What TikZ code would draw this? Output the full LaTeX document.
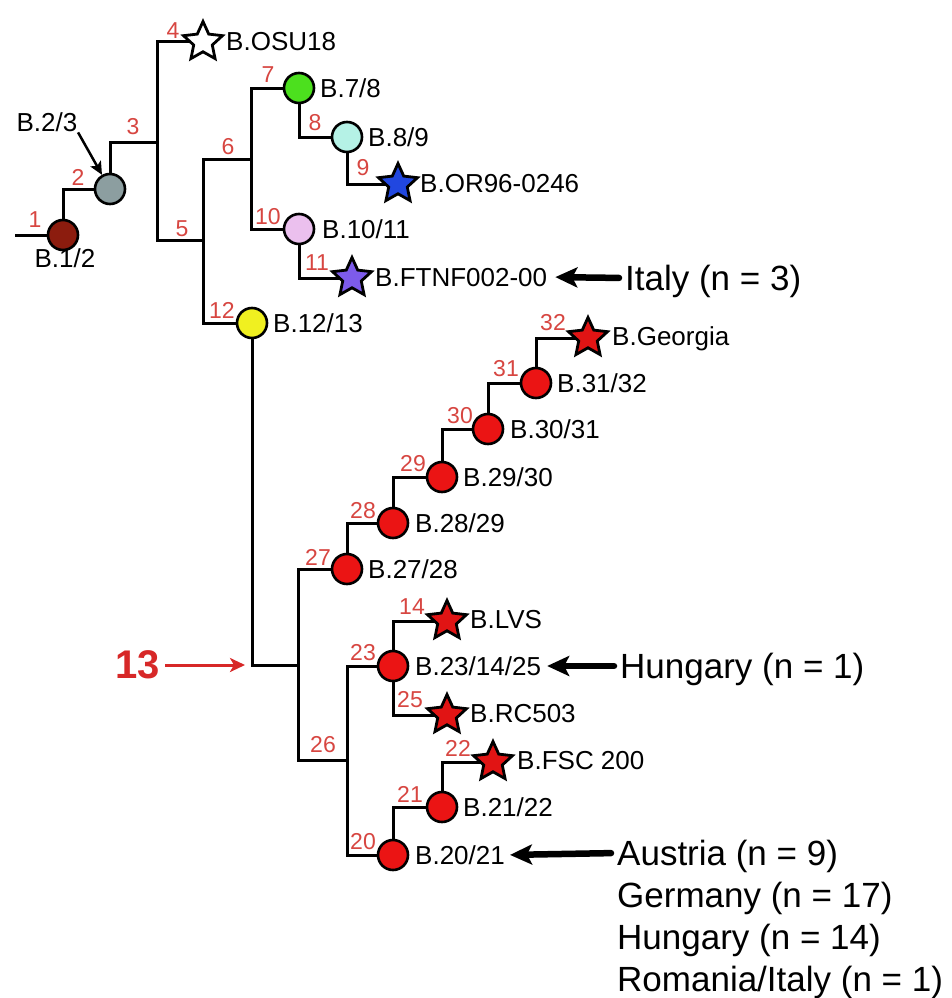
\documentclass[tikz,border=0pt]{standalone}
\usepackage{fontspec}
\setmainfont{Liberation Sans}
\usetikzlibrary{shapes.geometric,arrows.meta}
\pgfdeclarelayer{bg}\pgfsetlayers{bg,main}
\definecolor{numred}{RGB}{215,70,65}
\definecolor{bigred}{RGB}{215,40,40}
\definecolor{dotred}{RGB}{235,20,20}
\definecolor{starred}{RGB}{225,20,20}
\definecolor{c1col}{RGB}{140,28,14}
\definecolor{c2col}{RGB}{140,158,160}
\definecolor{c7col}{RGB}{76,224,30}
\definecolor{c8col}{RGB}{181,242,230}
\definecolor{s9col}{RGB}{33,71,224}
\definecolor{c10col}{RGB}{235,192,238}
\definecolor{s11col}{RGB}{125,91,235}
\definecolor{c12col}{RGB}{240,240,32}
\begin{document}
\begin{tikzpicture}[x=1pt,y=-1pt,
  dot/.style={circle,draw=black,line width=2.6pt,minimum size=30pt,inner sep=0pt},
  starnode/.style={star,star points=5,star point ratio=2.1,draw=black,line width=2.8pt,minimum size=41pt,inner sep=0pt},
  lab/.style={anchor=west,inner sep=0pt,font=\fontsize{26}{30}\selectfont,text height=18.6pt,text depth=0pt},
  labc/.style={anchor=center,inner sep=0pt,font=\fontsize{26}{30}\selectfont,text height=18.6pt,text depth=0pt},
  num/.style={inner sep=0pt,text=numred,font=\fontsize{23}{26}\selectfont},
  big/.style={anchor=west,inner sep=0pt,font=\fontsize{35}{40}\selectfont,text height=25pt,text depth=0pt},
  branch/.style={draw=black,line width=3pt},
  fatarrow/.style={draw=black,line width=6.5pt,line cap=round,-{Stealth[length=22pt,width=20pt,inset=5pt]}},
  thinarrow/.style={draw=black,line width=2.5pt,-{Stealth[length=13pt,width=12pt,inset=3pt]}},
  redarrow/.style={draw=bigred,line width=3pt,-{Stealth[length=15pt,width=14pt,inset=4pt]}}
]
\useasboundingbox (0,0) rectangle (951,998);

% ---- nodes of the tree ----
\coordinate (root) at (15,235);
\node[dot,fill=c1col] (c1) at (63,235) {};
\node[dot,fill=c2col] (c2) at (110,189) {};
\coordinate (j3) at (157,142);
\node[starnode,fill=white] (s4) at (203,42) {};
\coordinate (j5) at (203,240);
\coordinate (j6) at (251,159);
\node[dot,fill=c7col] (c7) at (299,88) {};
\node[dot,fill=c8col] (c8) at (347,137) {};
\node[starnode,fill=s9col] (s9) at (398,184) {};
\node[dot,fill=c10col] (c10) at (299,229) {};
\node[starnode,fill=s11col] (s11) at (352,278) {};
\node[dot,fill=c12col] (c12) at (252,323) {};
\coordinate (k13) at (252,665);
\coordinate (j27) at (298,665);
\node[dot,fill=dotred] (c27) at (347,569) {};
\node[dot,fill=dotred] (c28) at (393,523) {};
\node[dot,fill=dotred] (c29) at (442,477) {};
\node[dot,fill=dotred] (c30) at (488,429) {};
\node[dot,fill=dotred] (c31) at (536,383) {};
\node[starnode,fill=starred] (s32) at (588,338) {};
\coordinate (j26) at (347,760);
\node[dot,fill=dotred] (c23) at (393,666) {};
\node[starnode,fill=starred] (s14) at (447,621) {};
\node[starnode,fill=starred] (s25) at (447,715) {};
\node[dot,fill=dotred] (c20) at (393,855) {};
\node[dot,fill=dotred] (c21) at (442,807) {};
\node[starnode,fill=starred] (s22) at (493,762) {};

% ---- branches ----
\begin{pgfonlayer}{bg}
\fill[white] (0,0) rectangle (951,998);
\draw[branch] (root) -- (c1.center);
\draw[branch] (c1.center) |- (c2.center);
\draw[branch] (c2.center) |- (j3);
\draw[branch] (s4.center) -| (j3) |- (j5);
\draw[branch] (j6) -| (j5) |- (c12.center);
\draw[branch] (c7.center) -| (j6) |- (c10.center);
\draw[branch] (c7.center) |- (c8.center);
\draw[branch] (c8.center) |- (s9.center);
\draw[branch] (c10.center) |- (s11.center);
\draw[branch] (c12.center) -- (k13) -- (j27);
\draw[branch] (c27.center) -| (j27) |- (j26);
\draw[branch] (c27.center) |- (c28.center);
\draw[branch] (c28.center) |- (c29.center);
\draw[branch] (c29.center) |- (c30.center);
\draw[branch] (c30.center) |- (c31.center);
\draw[branch] (c31.center) |- (s32.center);
\draw[branch] (c23.center) -| (j26) |- (c20.center);
\draw[branch] (s14.center) -| (c23.center) |- (s25.center);
\draw[branch] (c20.center) |- (c21.center);
\draw[branch] (c21.center) |- (s22.center);
\end{pgfonlayer}

% ---- branch numbers ----
\node[num] (n1) at (35,220) {1};
\node[num] (n2) at (78,177) {2};
\node[num] (n3) at (133,127) {3};
\node[num] (n4) at (173,31) {4};
\node[num] (n5) at (182,229) {5};
\node[num] (n6) at (228,147) {6};
\node[num] (n7) at (268,75) {7};
\node[num] (n8) at (315,123) {8};
\node[num] (n9) at (363,168) {9};
\node[num] (n10) at (268,217) {10};
\node[num] (n11) at (317,263) {11};
\node[num] (n12) at (222,310) {12};
\node[num] (n27) at (318,557) {27};
\node[num] (n28) at (363,511) {28};
\node[num] (n29) at (413,464) {29};
\node[num] (n30) at (460,416) {30};
\node[num] (n31) at (506,369) {31};
\node[num] (n32) at (553,323) {32};
\node[num] (n14) at (412,607) {14};
\node[num] (n23) at (363,653) {23};
\node[num] (n25) at (410,700) {25};
\node[num] (n26) at (323,745) {26};
\node[num] (n22) at (458,748) {22};
\node[num] (n21) at (410,794) {21};
\node[num] (n20) at (363,842) {20};

% ---- node labels ----
\node[labc] (l12) at (65,258) {B.1/2};
\node[labc] (l23) at (47,122) {B.2/3};
\node[lab] (losu) at (226,41) {B.OSU18};
\node[lab] (l78) at (320,88) {B.7/8};
\node[lab] (l89) at (368,137) {B.8/9};
\node[lab] (lor) at (420,183) {B.OR96-0246};
\node[lab] (l1011) at (322,229) {B.10/11};
\node[lab] (lftnf) at (375,277) {B.FTNF002-00};
\node[lab] (l1213) at (273,323) {B.12/13};
\node[lab] (lgeo) at (612,336) {B.Georgia};
\node[lab] (l3132) at (557,383) {B.31/32};
\node[lab] (l3031) at (510,429) {B.30/31};
\node[lab] (l2930) at (463,477) {B.29/30};
\node[lab] (l2829) at (415,523) {B.28/29};
\node[lab] (l2728) at (368,569) {B.27/28};
\node[lab] (llvs) at (470,619) {B.LVS};
\node[lab] (l231425) at (415,666) {B.23/14/25};
\node[lab] (lrc) at (470,713) {B.RC503};
\node[lab] (lfsc) at (517,760) {B.FSC 200};
\node[lab] (l2122) at (463,807) {B.21/22};
\node[lab] (l2021) at (415,855) {B.20/21};

% ---- country annotations ----
\node[big] (italy) at (625,278) {Italy (n = 3)};
\node[big] (hung1) at (620,666) {Hungary (n = 1)};
\node[big] (austria) at (617,853) {Austria (n = 9)};
\node[big] (germany) at (617,895) {Germany (n = 17)};
\node[big] (hung14) at (617,937) {Hungary (n = 14)};
\node[big] (roman) at (617,979) {Romania/Italy (n = 1)};
\node[inner sep=0pt,text=bigred,font=\fontsize{40}{44}\bfseries\selectfont] (n13) at (138,665) {13};

% ---- arrows ----
\draw[fatarrow,shorten <=6pt,shorten >=8pt] (italy.west) -- (lftnf.east);
\draw[fatarrow,shorten <=6pt,shorten >=6pt] (hung1.west) -- (l231425.east);
\draw[fatarrow,shorten <=6pt,shorten >=5pt] (austria.west) -- (l2021.east);
\draw[redarrow,shorten <=5pt,shorten >=7pt] (n13.east) -- (k13);
\draw[thinarrow,shorten <=1pt] (l23.south east) -- (c2);
\end{tikzpicture}
\end{document}
